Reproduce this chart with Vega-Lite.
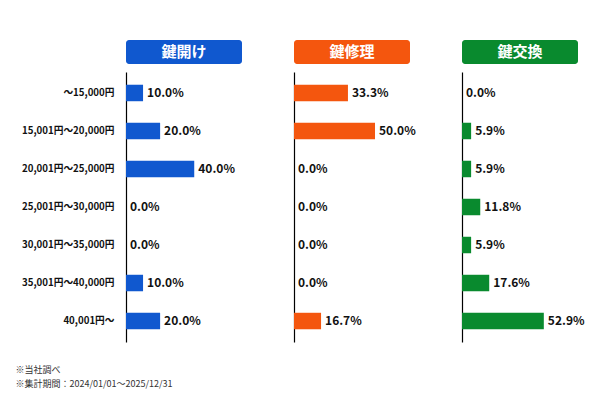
{
  "$schema": "https://vega.github.io/schema/vega-lite/v6.json",
  "padding": {"left": 15, "top": 40, "right": 5, "bottom": 5},
  "background": "white",
  "config": {
    "font": "Noto Sans CJK JP",
    "view": {"stroke": null}
  },
  "title": {
    "text": ["※当社調べ", "※集計期間：2024/01/01〜2025/12/31"],
    "orient": "bottom",
    "anchor": "start",
    "fontSize": 9,
    "fontWeight": "normal",
    "color": "#333333",
    "lineHeight": 14,
    "offset": 24,
    "dx": -6
  },
  "datasets": {
    "rows": [
      {"service": "鍵開け", "range": "〜15,000円", "pct": 0.100},
      {"service": "鍵開け", "range": "15,001円〜20,000円", "pct": 0.200},
      {"service": "鍵開け", "range": "20,001円〜25,000円", "pct": 0.400},
      {"service": "鍵開け", "range": "25,001円〜30,000円", "pct": 0.000},
      {"service": "鍵開け", "range": "30,001円〜35,000円", "pct": 0.000},
      {"service": "鍵開け", "range": "35,001円〜40,000円", "pct": 0.100},
      {"service": "鍵開け", "range": "40,001円〜", "pct": 0.200},
      {"service": "鍵修理", "range": "〜15,000円", "pct": 0.333},
      {"service": "鍵修理", "range": "15,001円〜20,000円", "pct": 0.500},
      {"service": "鍵修理", "range": "20,001円〜25,000円", "pct": 0.000},
      {"service": "鍵修理", "range": "25,001円〜30,000円", "pct": 0.000},
      {"service": "鍵修理", "range": "30,001円〜35,000円", "pct": 0.000},
      {"service": "鍵修理", "range": "35,001円〜40,000円", "pct": 0.000},
      {"service": "鍵修理", "range": "40,001円〜", "pct": 0.167},
      {"service": "鍵交換", "range": "〜15,000円", "pct": 0.000},
      {"service": "鍵交換", "range": "15,001円〜20,000円", "pct": 0.059},
      {"service": "鍵交換", "range": "20,001円〜25,000円", "pct": 0.059},
      {"service": "鍵交換", "range": "25,001円〜30,000円", "pct": 0.118},
      {"service": "鍵交換", "range": "30,001円〜35,000円", "pct": 0.059},
      {"service": "鍵交換", "range": "35,001円〜40,000円", "pct": 0.176},
      {"service": "鍵交換", "range": "40,001円〜", "pct": 0.529}
    ]
  },
  "bounds": "flush",
  "spacing": 168,
  "hconcat": [
    {
      "vconcat": [
        {
          "width": 116, "height": 24,
          "data": {"values": [{"service": "鍵開け"}]},
          "layer": [
            {"mark": {"type": "rect", "color": "#1058cf", "cornerRadius": 3}, "encoding": {}},
            {"mark": {"type": "text", "color": "white", "fontSize": 15, "fontWeight": "bold"}, "encoding": {"text": {"field": "service"}}}
          ]
        },
        {
          "width": 116, "height": 270,
          "data": {"name": "rows"},
          "transform": [{"filter": "datum.service === '鍵開け'"}],
          "encoding": {
            "y": {"field": "range", "type": "nominal", "sort": null,
              "scale": {"paddingInner": 0.566, "paddingOuter": 0.335},
              "axis": {"title": null, "ticks": false, "domainColor": "#000000", "domainWidth": 1.2, "labelFontSize": 9.7, "labelFontWeight": "bold", "labelColor": "#111111", "labelPadding": 12}},
            "x": {"field": "pct", "type": "quantitative", "scale": {"domain": [0, 0.68]}, "axis": null}
          },
          "layer": [
            {"mark": {"type": "bar", "color": "#1058cf"}},
            {"mark": {"type": "text", "align": "left", "baseline": "middle", "dx": 4, "fontSize": 12, "fontWeight": "bold", "color": "#111111"},
              "encoding": {"text": {"field": "pct", "type": "quantitative", "format": ".1%"}}}
          ]
        }
      ],
      "spacing": 8,
      "bounds": "flush"
    },
    {
      "vconcat": [
        {
          "width": 116, "height": 24,
          "data": {"values": [{"service": "鍵修理"}]},
          "layer": [
            {"mark": {"type": "rect", "color": "#f4560e", "cornerRadius": 3}, "encoding": {}},
            {"mark": {"type": "text", "color": "white", "fontSize": 15, "fontWeight": "bold"}, "encoding": {"text": {"field": "service"}}}
          ]
        },
        {
          "width": 116, "height": 270,
          "data": {"name": "rows"},
          "transform": [{"filter": "datum.service === '鍵修理'"}],
          "encoding": {
            "y": {"field": "range", "type": "nominal", "sort": null,
              "scale": {"paddingInner": 0.566, "paddingOuter": 0.335},
              "axis": {"title": null, "ticks": false, "labels": false, "domainColor": "#000000", "domainWidth": 1.2}},
            "x": {"field": "pct", "type": "quantitative", "scale": {"domain": [0, 0.716]}, "axis": null}
          },
          "layer": [
            {"mark": {"type": "bar", "color": "#f4560e"}},
            {"mark": {"type": "text", "align": "left", "baseline": "middle", "dx": 4, "fontSize": 12, "fontWeight": "bold", "color": "#111111"},
              "encoding": {"text": {"field": "pct", "type": "quantitative", "format": ".1%"}}}
          ]
        }
      ],
      "spacing": 8,
      "bounds": "flush"
    },
    {
      "vconcat": [
        {
          "width": 116, "height": 24,
          "data": {"values": [{"service": "鍵交換"}]},
          "layer": [
            {"mark": {"type": "rect", "color": "#098a2e", "cornerRadius": 3}, "encoding": {}},
            {"mark": {"type": "text", "color": "white", "fontSize": 15, "fontWeight": "bold"}, "encoding": {"text": {"field": "service"}}}
          ]
        },
        {
          "width": 116, "height": 270,
          "data": {"name": "rows"},
          "transform": [{"filter": "datum.service === '鍵交換'"}],
          "encoding": {
            "y": {"field": "range", "type": "nominal", "sort": null,
              "scale": {"paddingInner": 0.566, "paddingOuter": 0.335},
              "axis": {"title": null, "ticks": false, "labels": false, "domainColor": "#000000", "domainWidth": 1.2}},
            "x": {"field": "pct", "type": "quantitative", "scale": {"domain": [0, 0.75]}, "axis": null}
          },
          "layer": [
            {"mark": {"type": "bar", "color": "#098a2e"}},
            {"mark": {"type": "text", "align": "left", "baseline": "middle", "dx": 4, "fontSize": 12, "fontWeight": "bold", "color": "#111111"},
              "encoding": {"text": {"field": "pct", "type": "quantitative", "format": ".1%"}}}
          ]
        }
      ],
      "spacing": 8,
      "bounds": "flush"
    }
  ]
}
